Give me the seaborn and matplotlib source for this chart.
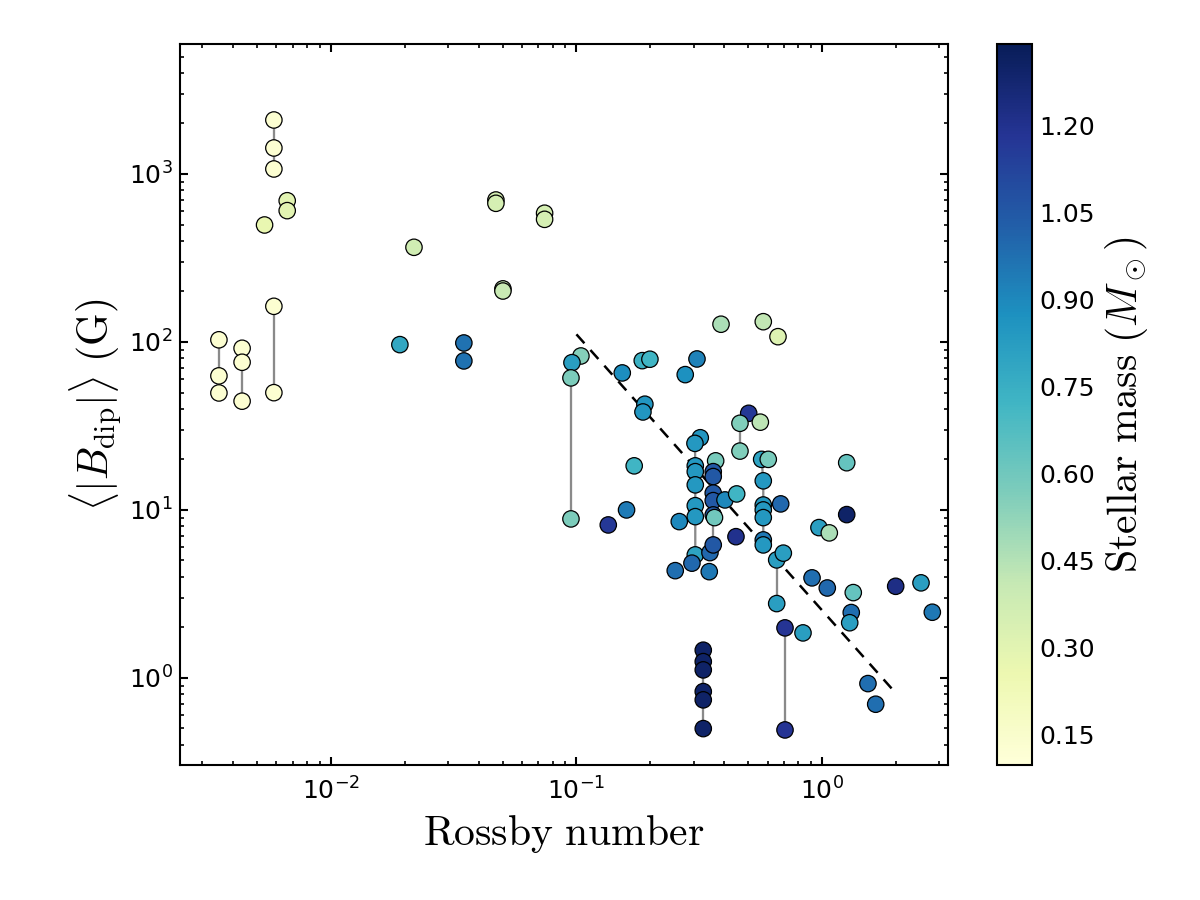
import numpy as np
import pandas as pd
import matplotlib
matplotlib.use("Agg")
import matplotlib.pyplot as plt
from matplotlib.colors import Normalize
from matplotlib.cm import ScalarMappable
from matplotlib.ticker import LogLocator, NullFormatter, FormatStrFormatter
import seaborn as sns

# ---------------- data ----------------
rossby = [
    0.0035, 0.0035, 0.0035,
    0.00435, 0.00435, 0.00435,
    0.00586, 0.00586, 0.00586,
    0.00586, 0.00586,
    0.00537,
    0.00664, 0.00664,
    0.0218,
    0.0191,
    0.047, 0.047,
    0.0742, 0.0742,
    0.0502, 0.0502,
    0.0348, 0.0348,
    0.1043, 0.0959, 0.095, 0.095,
    0.1537, 0.1854, 0.1992, 0.3097, 0.2774,
    0.388, 0.5767, 0.662,
    0.190, 0.1866, 0.503,
    0.4635, 0.4635, 0.561,
    0.3194,
    0.3039, 0.3048, 0.3048, 0.3048, 0.3048, 0.3048, 0.3048,
    0.1719, 0.160, 0.1348, 0.2623, 0.2954, 0.2526, 0.3475, 0.3498,
    0.369, 0.3607, 0.3607, 0.3607, 0.3607, 0.3607, 0.3607, 0.365,
    0.4027, 0.4494, 0.4464,
    0.568, 0.5767, 0.5767, 0.5767, 0.5767, 0.5767, 0.5767,
    0.6043, 0.679,
    0.654, 0.654, 0.696,
    0.707, 0.707,
    0.837, 0.972, 1.071, 1.261, 1.261,
    0.911, 1.051, 1.341, 1.316, 1.297,
    1.996, 2.531, 2.814, 1.539, 1.655,
    0.3285, 0.3285, 0.3285, 0.3285, 0.3285, 0.3285,
]
bdip = [
    103, 62.8, 49.7,
    91.7, 75.7, 44.4,
    2096, 1428, 1071,
    163, 49.9,
    497,
    693, 605,
    366,
    96.4,
    700, 669,
    584, 537,
    207, 201,
    98.6, 77.1,
    82.5, 75.3, 61.1, 8.84,
    65.4, 77.4, 78.9, 79.2, 63.9,
    127.5, 132, 107.5,
    42.6, 38.3, 37.6,
    32.8, 22.4, 33.3,
    26.9,
    24.9, 18.3, 16.9, 14.1, 10.6, 9.12, 5.40,
    18.3, 10.0, 8.14, 8.52, 4.82, 4.35, 4.29, 5.57,
    19.6, 16.9, 15.8, 12.6, 11.36, 9.34, 6.19, 9.0,
    11.47, 12.45, 6.93,
    20.0, 14.9, 10.7, 10.0, 9.0, 6.63, 6.19,
    20.0, 10.86,
    5.04, 2.77, 5.53,
    1.985, 0.490,
    1.853, 7.85, 7.30, 19.1, 9.38,
    3.94, 3.43, 3.22, 2.45, 2.13,
    3.51, 3.68, 2.46, 0.925, 0.697,
    1.462, 1.25, 1.116, 0.829, 0.740, 0.499,
]
mass = [
    0.13, 0.13, 0.13,
    0.13, 0.13, 0.13,
    0.13, 0.13, 0.13,
    0.13, 0.13,
    0.27,
    0.30, 0.30,
    0.37,
    0.78,
    0.35, 0.35,
    0.35, 0.35,
    0.40, 0.40,
    0.97, 0.97,
    0.55, 0.82, 0.57, 0.57,
    0.88, 0.74, 0.72, 0.92, 0.87,
    0.47, 0.42, 0.32,
    0.85, 0.85, 1.17,
    0.56, 0.56, 0.43,
    0.85,
    0.84, 0.84, 0.84, 0.84, 0.84, 0.84, 0.80,
    0.72, 0.94, 1.17, 0.90, 1.00, 0.98, 0.95, 1.00,
    0.58, 1.05, 1.05, 1.05, 1.05, 1.05, 1.05, 0.60,
    0.90, 0.72, 1.20,
    0.80, 0.84, 0.84, 0.84, 0.84, 0.95, 0.84,
    0.58, 1.00,
    0.82, 0.82, 0.82,
    1.18, 1.18,
    0.82, 0.82, 0.47, 0.63, 1.30,
    0.98, 1.00, 0.63, 0.98, 0.82,
    1.22, 0.82, 0.95, 0.98, 0.98,
    1.30, 1.30, 1.30, 1.30, 1.30, 1.30,
]
star = [
    1, 1, 1,
    2, 2, 2,
    3, 3, 3,
    4, 4,
    5,
    6, 7,
    8,
    9,
    10, 11,
    12, 13,
    14, 15,
    16, 17,
    18, 19, 20, 20,
    21, 22, 23, 24, 25,
    26, 27, 28,
    29, 30, 31,
    32, 32, 33,
    34,
    35, 35, 35, 35, 35, 35, 35,
    36, 37, 38, 39, 40, 41, 42, 43,
    44, 45, 45, 45, 45, 45, 45, 46,
    47, 48, 49,
    50, 50, 50, 50, 50, 50, 50,
    51, 52,
    53, 53, 54,
    55, 55,
    56, 57, 58, 59, 60,
    61, 62, 63, 64, 65,
    66, 67, 68, 69, 70,
    71, 71, 71, 71, 71, 71,
]

# dashed trend line (end points)
trend_ro = [0.1, 2.0]
trend_b = [111.0, 0.81]

mass_ticks = [0.15, 0.30, 0.45, 0.60, 0.75, 0.90, 1.05, 1.20]
mass_range = (0.097, 1.34)

df = pd.DataFrame({"rossby": rossby, "bdip": bdip, "mass": mass, "star": star})

# ---------------- style ----------------
sns.set_style("ticks")
plt.rcParams["font.family"] = ["DejaVu Sans"]
plt.rcParams["mathtext.fontset"] = "cm"
plt.rcParams["axes.linewidth"] = 1.0
plt.rcParams["axes.edgecolor"] = "black"
plt.rcParams["text.color"] = "black"
plt.rcParams["axes.labelcolor"] = "black"
plt.rcParams["xtick.color"] = "black"
plt.rcParams["ytick.color"] = "black"
plt.rcParams["xtick.direction"] = "in"
plt.rcParams["ytick.direction"] = "in"

fig = plt.figure(figsize=(8, 6), dpi=150)
ax = fig.add_axes([180 / 1200, 1 - 765 / 900, 768 / 1200, 721 / 900])

norm = Normalize(*mass_range)
cmap = plt.get_cmap("YlGnBu")

# connecting lines for repeated observations of the same star
for sid, g in df.groupby("star"):
    if len(g) > 1:
        ax.plot(g["rossby"], g["bdip"], color="#8a8a8a", lw=1.1, zorder=1)

ax.plot(trend_ro, trend_b, color="black", lw=1.2, dashes=(4.8, 3.6), zorder=2)

sns.scatterplot(data=df, x="rossby", y="bdip", hue="mass", palette="YlGnBu",
                hue_norm=norm, s=62, edgecolor="black", linewidth=0.6,
                legend=False, ax=ax, zorder=3)

ax.set_xscale("log")
ax.set_yscale("log")
ax.set_xlim(0.00243, 3.26)
ax.set_ylim(0.303, 5940)

for axis in (ax.xaxis, ax.yaxis):
    axis.set_minor_locator(LogLocator(base=10, subs=np.arange(2, 10), numticks=20))
    axis.set_minor_formatter(NullFormatter())
ax.tick_params(which="both", direction="in", top=True, right=True, labelsize=12,
               colors="black")
ax.tick_params(which="major", length=4, width=1)
ax.tick_params(which="minor", length=2, width=0.8)
ax.tick_params(axis="x", which="major", pad=6)

ax.set_xlabel(r"$\mathrm{Rossby\ number}$", fontsize=20, labelpad=4)
ax.set_ylabel(r"$\langle|B_{\mathrm{dip}}|\rangle\ (\mathrm{G})$", fontsize=20, labelpad=2)

# colorbar
cax = fig.add_axes([997 / 1200, 1 - 765 / 900, 35 / 1200, 721 / 900])
sm = ScalarMappable(norm=norm, cmap=cmap)
sm.set_array([])
cb = fig.colorbar(sm, cax=cax)
cb.set_ticks(mass_ticks)
cb.ax.yaxis.set_major_formatter(FormatStrFormatter("%.2f"))
cb.ax.tick_params(direction="in", length=4, width=0.8, labelsize=12, colors="black")
cb.outline.set_linewidth(1.0)
cb.outline.set_edgecolor("black")
cb.set_label(r"$\mathrm{Stellar\ mass}\ (M_\odot)$", fontsize=20, labelpad=4)

fig.savefig("out.png", dpi=150)
